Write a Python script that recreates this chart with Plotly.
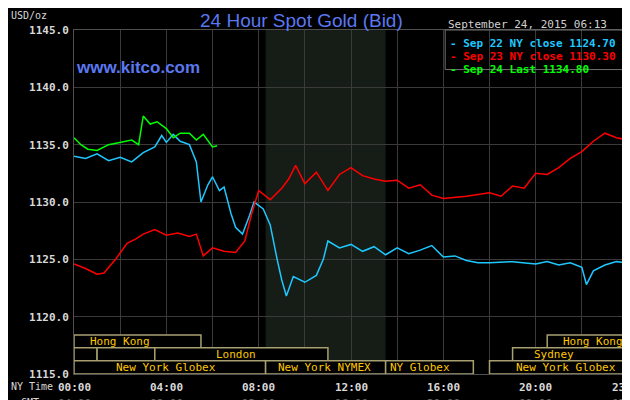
import plotly.graph_objects as go

hours_blue = [0,0.5,1,1.5,2,2.5,3,3.5,3.8,4,4.3,4.6,5,5.3,5.5,5.8,6,6.3,6.5,6.8,7,7.3,7.6,7.8,8.2,8.5,8.8,9,9.2,9.5,10,10.5,10.8,11,11.5,12,12.5,13,13.5,14,14.5,15,15.5,16,16.5,17,17.5,18,19,20,20.5,21,21.5,22,22.2,22.5,23,23.5,24]
blue = [1134,1133.8,1134.2,1133.6,1133.9,1133.5,1134.3,1134.8,1135.8,1135.2,1135.9,1135.3,1135.0,1133.5,1130.0,1131.5,1132.2,1131.0,1131.3,1129.0,1127.8,1127.2,1128.8,1130.0,1129.4,1128.0,1125.0,1123.2,1121.8,1123.5,1123.0,1123.6,1125.0,1126.6,1126.0,1126.3,1125.7,1126.1,1125.4,1126.0,1125.5,1125.8,1126.2,1125.2,1125.3,1124.9,1124.7,1124.7,1124.8,1124.6,1124.8,1124.5,1124.7,1124.3,1122.8,1124.0,1124.5,1124.8,1124.7]

hours_red = [0,0.5,1,1.3,1.8,2.3,2.7,3,3.5,4,4.5,5,5.3,5.6,6,6.5,7,7.4,7.7,8,8.5,9,9.3,9.6,10,10.5,11,11.5,12,12.5,13,13.5,14,14.5,15,15.5,16,17,18,18.5,19,19.5,20,20.5,21,21.5,22,22.5,23,23.5,24]
red = [1124.6,1124.2,1123.7,1123.8,1125.0,1126.4,1126.8,1127.2,1127.6,1127.1,1127.3,1127.0,1127.2,1125.3,1126.0,1125.7,1125.6,1126.6,1129.0,1131.0,1130.2,1131.2,1132.0,1133.2,1131.6,1132.6,1131.0,1132.4,1133.0,1132.3,1132.0,1131.8,1131.9,1131.2,1131.5,1130.6,1130.3,1130.5,1130.8,1130.5,1131.4,1131.2,1132.5,1132.4,1133.0,1133.8,1134.4,1135.3,1136.0,1135.6,1135.4]

hours_green = [0,0.3,0.6,1,1.5,2,2.5,2.8,3,3.3,3.6,4,4.3,4.6,5,5.3,5.6,6,6.2]
green = [1135.6,1135.0,1134.6,1134.5,1135.0,1135.2,1135.4,1135.0,1137.5,1136.8,1137.0,1136.4,1135.6,1136.0,1136.0,1135.4,1135.9,1134.8,1134.9]

y_ticks = [1115,1120,1125,1130,1135,1140,1145]
ny_labels = ["00:00","04:00","08:00","12:00","16:00","20:00","23:59"]
gmt_labels = ["04:00","08:00","12:00","16:00","20:00","00:00","03:59"]
label_hours = [0,4,8,12,16,20,24]

MONO = "DejaVu Sans Mono"
fig = go.Figure()
fig.add_trace(go.Scatter(x=hours_blue, y=blue, mode="lines", line=dict(color="#1ec8ff", width=1.5)))
fig.add_trace(go.Scatter(x=hours_red, y=red, mode="lines", line=dict(color="#ff0000", width=1.5)))
fig.add_trace(go.Scatter(x=hours_green, y=green, mode="lines", line=dict(color="#00ff00", width=1.5)))

shapes = [dict(type="rect", xref="x", yref="y", x0=8.3, x1=13.5, y0=1115, y1=1145,
               fillcolor="#161c16", line=dict(width=0), layer="below")]
box_line = "#a8a070"
rows = {1: (1117.3, 1118.4), 2: (1116.15, 1117.3), 3: (1115.0, 1116.15)}
boxes = [(1, 0, 5.5, "Hong Kong", 2.0), (1, 20.5, 24, "Hong Kong", 22.5),
         (2, 0, 1, "", 0), (2, 1, 3.5, "", 0), (2, 3.5, 11, "London", 7.0), (2, 19, 24, "Sydney", 20.8),
         (3, 0, 8.3, "New York Globex", 4.0), (3, 8.3, 13.5, "New York NYMEX", 10.85),
         (3, 13.5, 17.3, "NY Globex", 15.0), (3, 18, 24, "New York Globex", 21.3)]
ann = []
for r, a, b, t, c in boxes:
    y0, y1 = rows[r]
    shapes.append(dict(type="rect", xref="x", yref="y", x0=a, x1=b, y0=y0, y1=y1,
                       fillcolor="black", line=dict(color=box_line, width=1.5)))
    if t:
        ann.append(dict(x=c, y=(y0+y1)/2, xref="x", yref="y", text=t, showarrow=False,
                        font=dict(family=MONO, size=11, color="#ffc800")))
for h, n, g in zip(label_hours, ny_labels, gmt_labels):
    ann.append(dict(x=h, y=-0.015, xref="x", yref="paper", text="<b>"+n+"</b>", showarrow=False,
                    yanchor="top", font=dict(family=MONO, size=11, color="#d8d8d8")))
    ann.append(dict(x=h, y=-0.06, xref="x", yref="paper", text="<b>"+g+"</b>", showarrow=False,
                    yanchor="top", font=dict(family=MONO, size=11, color="#606060")))
ann += [
    dict(x=-0.117, y=-0.015, xref="paper", yref="paper", text="NY Time", showarrow=False, xanchor="left", yanchor="top",
         font=dict(family=MONO, size=10, color="#d8d8d8")),
    dict(x=-0.1, y=-0.06, xref="paper", yref="paper", text="GMT", showarrow=False, xanchor="left", yanchor="top",
         font=dict(family=MONO, size=10, color="#d8d8d8")),
    dict(x=-0.117, y=1.02, xref="paper", yref="paper", text="USD/oz", showarrow=False, xanchor="left", yanchor="bottom",
         font=dict(family=MONO, size=10, color="#d8d8d8")),
    dict(x=0.41, y=1.065, xref="paper", yref="paper", text="24 Hour Spot Gold (Bid)", showarrow=False,
         font=dict(family="Liberation Sans", size=19, color="#5a78f0")),
    dict(x=0.0, y=0.925, xref="paper", yref="paper", text="<b>www.kitco.com</b>", showarrow=False, xanchor="left",
         font=dict(family="Liberation Sans", size=17, color="#5a78f0")),
    dict(x=0.672, y=1.04, xref="paper", yref="paper", text="September 24, 2015 06:13", showarrow=False, xanchor="left",
         font=dict(family=MONO, size=11, color="#d0d0d0")),
]
leg = [("- Sep 22 NY close 1124.70", "#1ec8ff"), ("- Sep 23 NY close 1130.30", "#ff0000"), ("- Sep 24 Last 1134.80", "#00ff00")]
for i, (t, c) in enumerate(leg):
    ann.append(dict(x=0.675, y=0.985 - i*0.038, xref="paper", yref="paper", text="<b>"+t+"</b>", showarrow=False,
                    xanchor="left", font=dict(family=MONO, size=11, color=c)))
shapes.append(dict(type="rect", xref="paper", yref="paper", x0=0.67, x1=1.0, y0=0.885, y1=1.0,
                   line=dict(color="#707070", width=1), fillcolor="rgba(0,0,0,0)"))

fig.update_layout(
    width=630, height=400, paper_bgcolor="black", plot_bgcolor="black",
    margin=dict(l=66, r=10, t=22, b=34, autoexpand=False), showlegend=False,
    shapes=shapes, annotations=ann,
    xaxis=dict(range=[0, 24], dtick=2, showticklabels=False, gridcolor="#3a3a3a", zeroline=False,
               showline=True, linecolor="#505050", mirror=True, automargin=False),
    yaxis=dict(range=[1115, 1145], tickvals=y_ticks, ticktext=["<b>%.1f</b>" % v for v in y_ticks],
               gridcolor="#3a3a3a", zeroline=False, showline=True, linecolor="#505050", mirror=True,
               automargin=False, ticklabelstandoff=2,
               tickfont=dict(family=MONO, size=11, color="#d8d8d8")),
)
fig.write_html("out.html")
